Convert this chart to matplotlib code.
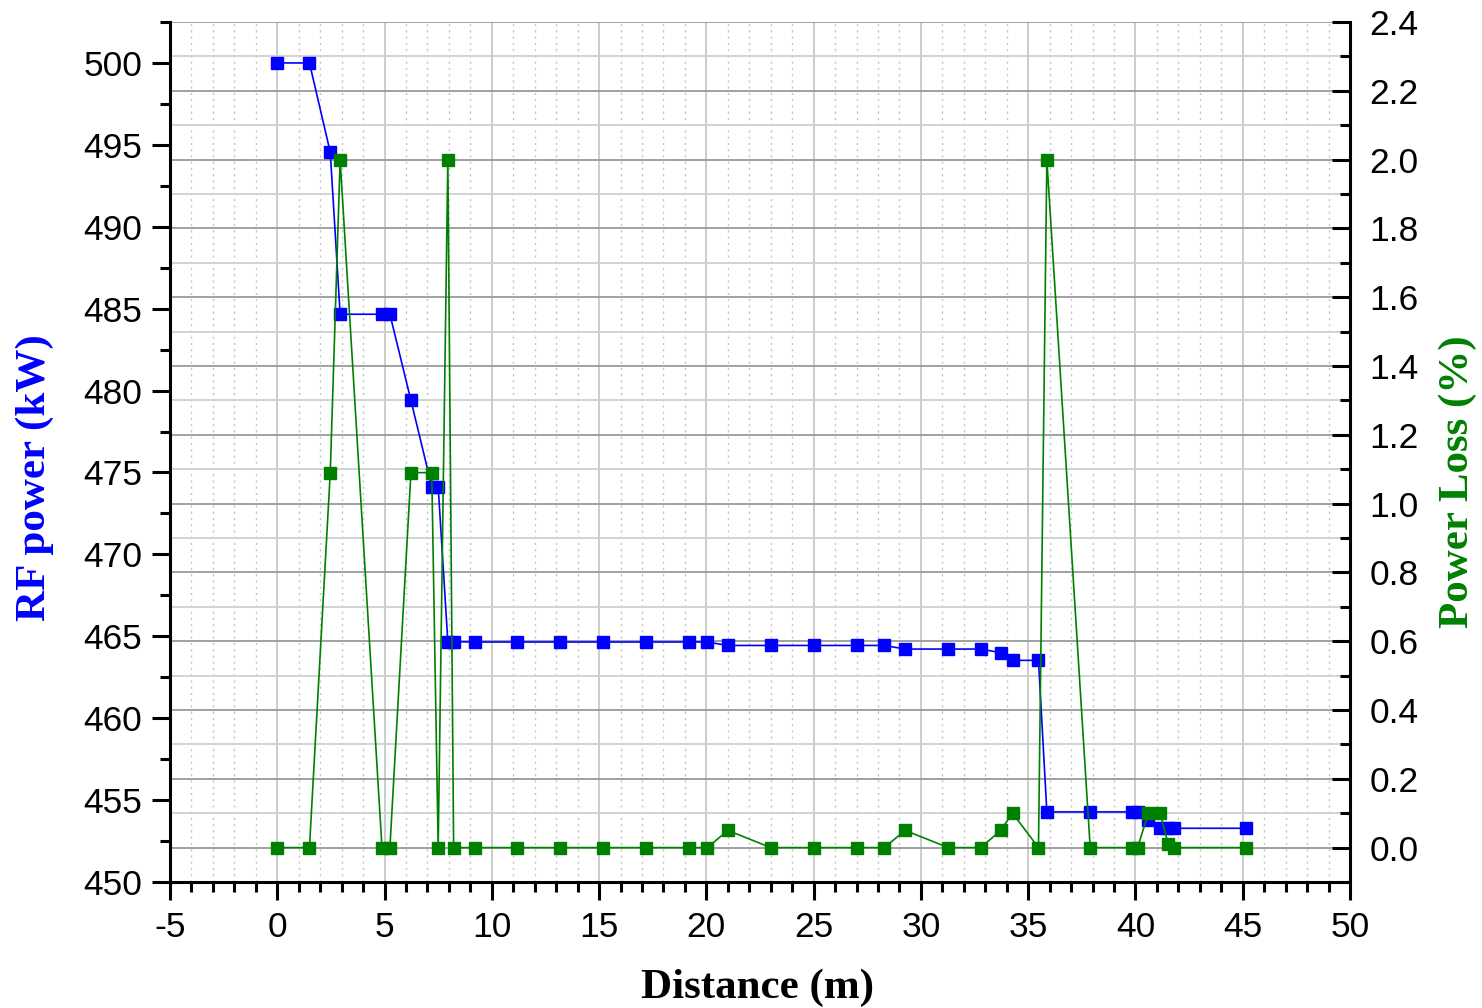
import matplotlib
matplotlib.use("Agg")
import matplotlib.pyplot as plt
from matplotlib.ticker import MultipleLocator

plt.rcParams['axes.unicode_minus'] = False
plt.rcParams['font.family'] = ['Liberation Sans', 'DejaVu Sans']

# Measurement points along the line
distance = [0, 1.5, 2.47, 2.93, 4.88, 5.25, 6.23, 7.2, 7.5, 7.95, 8.22,
            9.2, 11.17, 13.18, 15.18, 17.18, 19.2, 20.05,
            21.0, 23.0, 25.0, 27.0, 28.3,
            29.26, 31.28, 32.79, 33.72, 34.27, 35.48, 35.87,
            37.89, 39.85, 40.1, 40.6, 41.15, 41.53, 41.8, 45.16]

rf_power_kw = [500, 500, 494.55, 484.66, 484.66, 484.66, 479.4, 474.14, 474.14, 464.67, 464.67,
               464.65, 464.65, 464.65, 464.65, 464.65, 464.65, 464.65,
               464.44, 464.44, 464.44, 464.44, 464.44,
               464.22, 464.22, 464.22, 464.0, 463.53, 463.53, 454.28,
               454.28, 454.28, 454.28, 453.79, 453.32, 453.28, 453.28, 453.28]

power_loss_pct = [0, 0, 1.09, 2.0, 0, 0, 1.09, 1.09, 0, 2.0, 0,
                  0, 0, 0, 0, 0, 0, 0,
                  0.05, 0, 0, 0, 0,
                  0.05, 0, 0, 0.05, 0.10, 0, 2.0,
                  0, 0, 0, 0.10, 0.10, 0.01, 0, 0]

x_ticks = list(range(-5, 51, 5))
left_ticks = list(range(450, 501, 5))
right_ticks = [0.0, 0.2, 0.4, 0.6, 0.8, 1.0, 1.2, 1.4, 1.6, 1.8, 2.0, 2.2, 2.4]

BLUE = '#0000ff'
GREEN = '#008000'
TICK_FS = 25.5
LABEL_FS = 31

fig = plt.figure(figsize=(14.82, 10.08), dpi=100)
pos = [170 / 1482, 1 - 882 / 1008, (1350 - 170) / 1482, (882 - 22) / 1008]

XLIM = (-5, 50)
LEFT_LIM = (450, 502.5)
RIGHT_LIM = (-0.1, 2.4)

# Background axes carrying only the grid
axg = fig.add_axes(pos, zorder=0)
axg.set_xlim(*XLIM)
axg.set_ylim(*RIGHT_LIM)
axg.xaxis.set_major_locator(MultipleLocator(5))
axg.xaxis.set_minor_locator(MultipleLocator(1))
axg.yaxis.set_major_locator(MultipleLocator(0.2))
axg.yaxis.set_minor_locator(MultipleLocator(0.1))
axg.grid(True, axis='x', which='major', color='#c8c8c8', lw=1.3, ls='-')
axg.grid(True, axis='x', which='minor', color='#c4c4c4', lw=1.0, ls=(0, (1.5, 3)))
axg.grid(True, axis='y', which='major', color='#9a9a9a', lw=1.3, ls='-')
axg.grid(True, axis='y', which='minor', color='#d0d0d0', lw=1.3, ls='-')
axg.tick_params(which='both', length=0, labelbottom=False, labelleft=False)
for s in axg.spines.values():
    s.set_visible(False)

# Left axis: RF power
ax = fig.add_axes(pos, zorder=1)
ax.patch.set_visible(False)
ax.plot(distance, rf_power_kw, color=BLUE, lw=1.2, marker='s', ms=8,
        mec=BLUE, mfc=BLUE, clip_on=False)
ax.set_xlim(*XLIM)
ax.set_ylim(*LEFT_LIM)
ax.set_xticks(x_ticks)
ax.xaxis.set_minor_locator(MultipleLocator(1))
ax.set_yticks(left_ticks)
ax.yaxis.set_minor_locator(MultipleLocator(2.5))
ax.tick_params(axis='both', which='major', direction='out', length=13, width=2.2,
               labelsize=TICK_FS, pad=7)
ax.tick_params(axis='both', which='minor', direction='out', length=7, width=2.2)
ax.tick_params(axis='x', which='major', pad=8)
ax.spines['top'].set_visible(False)
ax.spines['right'].set_visible(False)
for s in ('left', 'bottom'):
    ax.spines[s].set_linewidth(2.2)

ax.set_xlabel('Distance (m)', family='Liberation Serif', weight='bold', fontsize=LABEL_FS)
ax.xaxis.set_label_coords(0.498, -0.1233)
ax.xaxis.label.set_verticalalignment('center')
ax.set_ylabel('RF power (kW)', family='Liberation Serif', weight='bold', fontsize=LABEL_FS,
              color=BLUE)
ax.yaxis.set_label_coords(-0.1144, 0.470)
ax.yaxis.label.set_verticalalignment('center')

# Right axis: power loss
ax2 = fig.add_axes(pos, zorder=2, sharex=ax)
ax2.patch.set_visible(False)
ax2.plot(distance, power_loss_pct, color=GREEN, lw=1.2, marker='s', ms=8,
         mec=GREEN, mfc=GREEN, clip_on=False)
ax2.set_ylim(*RIGHT_LIM)
ax2.set_yticks(right_ticks)
ax2.set_yticklabels([f'{v:.1f}' for v in right_ticks])
ax2.yaxis.set_minor_locator(MultipleLocator(0.1))
ax2.yaxis.tick_right()
ax2.yaxis.set_label_position('right')
ax2.tick_params(axis='y', which='major', direction='in', length=13, width=2.2,
                labelsize=TICK_FS, pad=14)
ax2.tick_params(axis='y', which='minor', direction='in', length=7, width=2.2)
ax2.tick_params(axis='x', which='both', bottom=False, labelbottom=False)
for s in ('top', 'left', 'bottom'):
    ax2.spines[s].set_visible(False)
ax2.spines['right'].set_linewidth(2.2)
ax2.set_ylabel('Power Loss (%)', family='Liberation Serif', weight='bold', fontsize=LABEL_FS,
               color=GREEN)
ax2.yaxis.set_label_coords(1.0915, 0.466)
ax2.yaxis.label.set_verticalalignment('center')

fig.savefig('out.png', dpi=100)
